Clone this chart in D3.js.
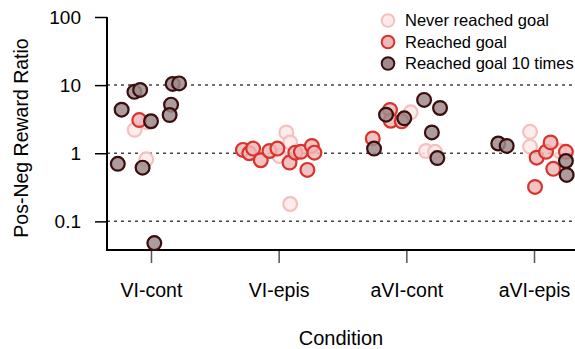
<!DOCTYPE html>
<html>
<head>
<meta charset="utf-8">
<script src="https://cdn.jsdelivr.net/npm/d3@7"></script>
<style>
html,body{margin:0;padding:0;background:#fff;}
svg{display:block;}
text{font-family:"Liberation Sans",Arial,sans-serif;fill:#000;}
</style>
</head>
<body>
<svg id="chart" width="575" height="349"></svg>
<script>
const categories = ["VI-cont","VI-epis","aVI-cont","aVI-epis"];
const groups = ["Never reached goal","Reached goal","Reached goal 10 times"];
const yTicks = [0.1, 1, 10, 100];
const yTickLabels = ["0.1","1","10","100"];

// Each point: [condition index, jitter (fraction of category step), ratio]
const neverReached = [
  [0,-0.03,2.84],[0,-0.128,2.21],[0,-0.037,0.815],
  [1,0.06,2.02],[1,0.09,1.44],[1,0.006,0.91],[1,0.09,0.18],
  [2,0.034,3.99],[2,0.154,1.08],[2,0.225,1.05],
  [3,-0.031,2.06],[3,-0.031,1.25],[3,0.198,1.08]
];
const reachedGoal = [
  [0,-0.092,3.07],
  [1,-0.28,1.12],[1,-0.23,1.0],[1,-0.2,1.17],[1,-0.14,0.79],[1,-0.072,1.08],[1,-0.01,1.17],
  [1,0.085,0.73],[1,0.13,1.02],[1,0.174,1.05],[1,0.26,1.28],[1,0.28,1.02],[1,0.225,0.57],
  [2,-0.263,1.65],[2,-0.128,4.32],[2,-0.122,3.0],[2,-0.036,2.94],
  [3,0.021,0.86],[3,0.094,1.05],[3,0.13,1.44],[3,0.151,0.59],[3,0.25,1.05],[3,0.008,0.32]
];
const reachedGoal10 = [
  [0,-0.13,7.96],[0,-0.085,8.5],[0,0.17,10.4],[0,0.22,10.6],[0,-0.23,4.36],
  [0,0.157,5.17],[0,0.146,3.64],[0,0.0,2.95],[0,-0.26,0.70],[0,-0.066,0.615],[0,0.026,0.048],
  [2,-0.253,1.17],[2,-0.159,3.68],[2,-0.016,3.26],[2,0.139,6.07],[2,0.264,4.62],[2,0.2,2.02],[2,0.243,0.85],
  [3,-0.28,1.39],[3,-0.214,1.28],[3,0.25,0.77],[3,0.256,0.48]
];

const styles = [
  {fill:"#fdeaea", stroke:"#f5c0c0"},
  {fill:"#f0b8b8", stroke:"#d9332d"},
  {fill:"#9f8b8b", stroke:"#3a0d0e"}
];

const svg = d3.select("#chart");
const mLeft = 107, mRight = 575, mTop = 17, mBottom = 250;

const x = d3.scalePoint().domain(categories).range([151, 534]);
const step = x.step();
const y = d3.scaleLog().domain([0.038, 100]).range([mBottom, mTop]);

// gridlines
svg.append("g").selectAll("line").data([0.1,1,10]).join("line")
  .attr("x1", mLeft).attr("x2", mRight)
  .attr("y1", d=>y(d)).attr("y2", d=>y(d))
  .attr("stroke","#444").attr("stroke-width",1.5).attr("stroke-dasharray","3,4");

// y axis
const yAxis = d3.axisLeft(y).tickValues(yTicks).tickFormat((d,i)=>yTickLabels[i]).tickSize(12).tickPadding(14);
const gy = svg.append("g").attr("transform",`translate(${mLeft},0)`).call(yAxis);
gy.select(".domain").remove();
gy.selectAll(".tick line").attr("stroke","#000").attr("stroke-width",1.5);
gy.selectAll(".tick text").style("font-size","19px").style("font-family","Liberation Sans, Arial, sans-serif");
svg.append("line").attr("x1",mLeft).attr("x2",mLeft).attr("y1",y(100)).attr("y2",mBottom+1)
  .attr("stroke","#000").attr("stroke-width",2);

// x axis
const xAxis = d3.axisBottom(x).tickSize(13).tickPadding(20);
const gx = svg.append("g").attr("transform",`translate(0,${mBottom})`).call(xAxis);
gx.select(".domain").remove();
gx.selectAll(".tick line").attr("stroke","#555").attr("stroke-width",1.5);
gx.selectAll(".tick text").style("font-size","19.5px").style("font-family","Liberation Sans, Arial, sans-serif");
svg.append("line").attr("x1",mLeft-1).attr("x2",mRight).attr("y1",mBottom).attr("y2",mBottom)
  .attr("stroke","#000").attr("stroke-width",2);

// axis titles
svg.append("text").attr("x",341).attr("y",345).attr("text-anchor","middle")
  .style("font-size","20px").text("Condition");
svg.append("text").attr("transform","translate(28,138) rotate(-90)").attr("text-anchor","middle")
  .style("font-size","19.5px").text("Pos-Neg Reward Ratio");

// points
const sets = [neverReached, reachedGoal, reachedGoal10];
sets.forEach((set, gi) => {
  svg.append("g").selectAll("circle").data(set).join("circle")
    .attr("cx", d => x(categories[d[0]]) + d[1]*step)
    .attr("cy", d => y(d[2]))
    .attr("r", 6.9)
    .attr("fill", styles[gi].fill).attr("fill-opacity", 0.85)
    .attr("stroke", styles[gi].stroke).attr("stroke-width", 2.2);
});

// legend
const lg = svg.append("g");
groups.forEach((g, i) => {
  const cy = 20.5 + i*21.5;
  lg.append("circle").attr("cx",388).attr("cy",cy).attr("r",6.3)
    .attr("fill",styles[i].fill).attr("stroke",styles[i].stroke).attr("stroke-width",2);
  lg.append("text").attr("x",405).attr("y",cy+5.5).style("font-size","16.5px").text(g);
});
</script>
</body>
</html>
